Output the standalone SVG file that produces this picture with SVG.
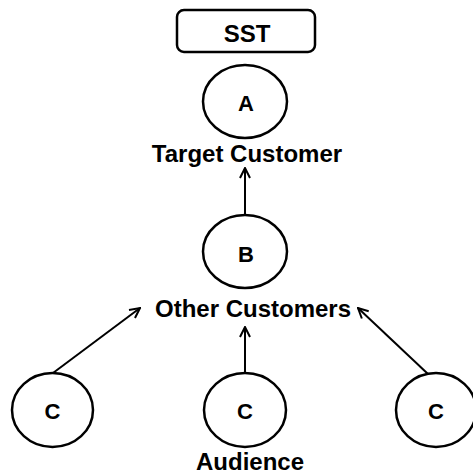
<svg xmlns="http://www.w3.org/2000/svg" width="473" height="474" viewBox="0 0 473 474">
  <style>
    .shape { fill: #fff; stroke: #000; stroke-width: 2.5; }
    .letter { font-family: "Liberation Sans", Arial, sans-serif; font-weight: bold; font-size: 22px; text-anchor: middle; fill: #000; }
    .label { font-family: "Liberation Sans", Arial, sans-serif; font-weight: bold; font-size: 24px; text-anchor: middle; fill: #000; }
    .edge { fill: none; stroke: #000; stroke-width: 2; marker-end: url(#open); }
  </style>
  <defs>
    <marker id="open" viewBox="0 0 12 12" refX="11" refY="6" markerWidth="12" markerHeight="12" markerUnits="userSpaceOnUse" orient="auto">
      <path d="M1,1 L11,6 L1,11" fill="none" stroke="#000" stroke-width="2"/>
    </marker>
  </defs>

  <g id="edges">
    <line class="edge" x1="245" y1="215" x2="245" y2="168"/>
    <line class="edge" x1="53" y1="373" x2="140" y2="308"/>
    <line class="edge" x1="245" y1="373" x2="245" y2="327"/>
    <line class="edge" x1="428" y1="374" x2="358" y2="308"/>
  </g>

  <g id="sst">
    <rect class="shape" x="177" y="10" width="138" height="42" rx="7"/>
    <text class="label" x="247" y="42">SST</text>
  </g>

  <g id="node-a">
    <ellipse class="shape" cx="245" cy="101.5" rx="42" ry="36.5"/>
    <text class="letter" x="246" y="111">A</text>
    <text class="label" x="247" y="162">Target Customer</text>
  </g>

  <g id="node-b">
    <ellipse class="shape" cx="245" cy="251.5" rx="42" ry="36.5"/>
    <text class="letter" x="246" y="262">B</text>
    <text class="label" x="253" y="317">Other Customers</text>
  </g>

  <g id="node-c-left">
    <ellipse class="shape" cx="52.5" cy="410" rx="40.5" ry="37"/>
    <text class="letter" x="52.5" y="419">C</text>
  </g>

  <g id="node-c-mid">
    <ellipse class="shape" cx="245" cy="410" rx="41" ry="37"/>
    <text class="letter" x="245" y="419">C</text>
    <text class="label" x="250" y="470">Audience</text>
  </g>

  <g id="node-c-right">
    <ellipse class="shape" cx="436" cy="410" rx="40" ry="37"/>
    <text class="letter" x="436" y="419">C</text>
  </g>
</svg>
